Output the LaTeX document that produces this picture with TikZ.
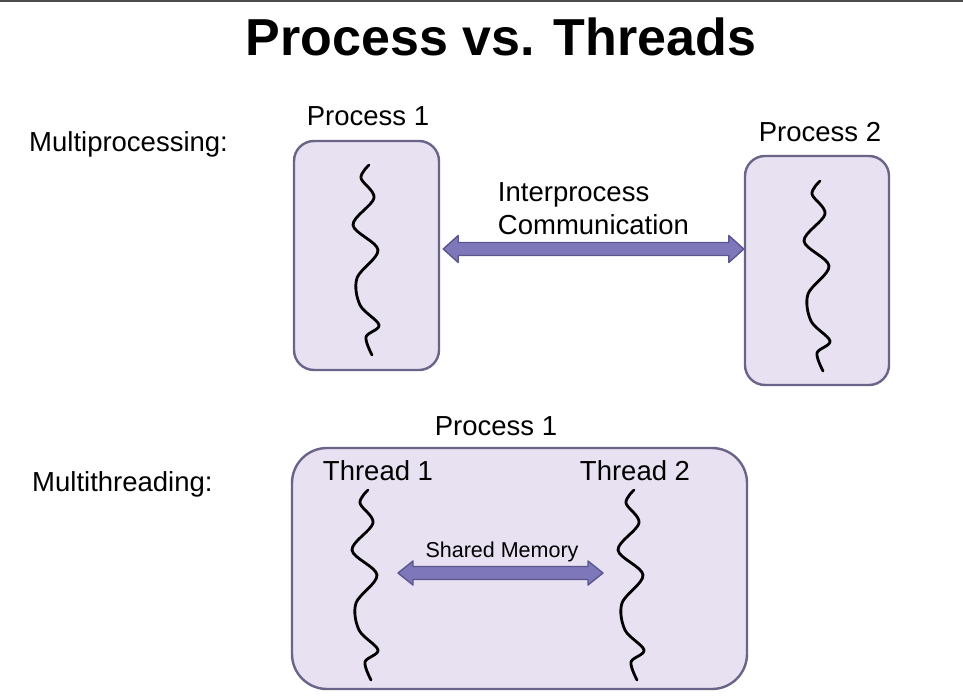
\documentclass[tikz,border=0pt]{standalone}
\usepackage{fontspec}
\setmainfont{Liberation Sans}
\usetikzlibrary{calc,positioning}
\definecolor{boxfill}{HTML}{E7E1F1}
\definecolor{boxedge}{HTML}{6B6489}
\definecolor{arrowfill}{HTML}{7E78BA}
\definecolor{arrowedge}{HTML}{5B5690}
\tikzset{
	procbox/.style={draw=boxedge, fill=boxfill, line width=2.4pt, rounded corners=20pt, inner sep=0pt},
	txt/.style={font=\fontsize{27.5}{33}\selectfont, inner sep=0pt},
	threadline/.style={line width=2.8pt, line cap=round, line join=round},
	thread/.pic={\draw[threadline] plot[smooth, tension=0.55] coordinates {(0,0) (-8,13) (5,33) (-16,60) (9,85) (-12,113) (-9,140) (10,160) (-3,172) (3,190)};},
	commarrow/.style={fill=arrowfill, draw=arrowedge, line width=1.4pt, line join=round}
}
% fat double arrow: (#1) left tip, (#2) right tip, #3 head half height, #4 shaft half height
\newcommand{\fatarrow}[4]{\draw[commarrow] (#1) -- ++(15,-#3) -- ++(0,#3-#4) -- ($(#2)+(-15,-#4)$) -- ++(0,#4-#3) -- (#2) -- ($(#2)+(-15,#3)$) -- ++(0,#4-#3) -- ($(#1)+(15,#4)$) -- ++(0,#3-#4) -- cycle;}

\begin{document}
\begin{tikzpicture}[x=1pt,y=-1pt]
		\useasboundingbox (0,0) rectangle (963,699);
		%%%%% START %%%%%
		
		\draw[line width=2pt, color=black!70] (0,1) -- (963,1);
		\node[font=\fontsize{52}{60}\selectfont\bfseries, inner sep=0pt, anchor=base] (title) at (501,55) {Process vs. Threads};
		
		% multiprocessing
		\node[txt, anchor=base west] (mp) at (29,151) {Multiprocessing:};
		\node[procbox, minimum width=145pt, minimum height=229pt] (p1) at (366.5,255.5) {};
		\node[procbox, minimum width=144pt, minimum height=229pt] (p2) at (817,270.5) {};
		\node[txt, anchor=base] (p1lbl) at (368,125) {Process 1};
		\node[txt, anchor=base] (p2lbl) at (820,141) {Process 2};
		\pic at (369,165) {thread};
		\pic at (820,181) {thread};
		
		\coordinate (ipcL) at ([xshift=3pt,yshift=6.5pt]p1.east);
		\coordinate (ipcR) at (ipcL -| p2.west);
		\fatarrow{ipcL}{ipcR}{13.5}{6.5}
		\node[txt, align=left] (ipc) at (593.5,209) {Interprocess\\Communication};
		
		% multithreading
		\node[txt, anchor=base west] (mt) at (32,491) {Multithreading:};
		\node[procbox, rounded corners=35pt, minimum width=455pt, minimum height=241pt] (p3) at (519.5,568.5) {};
		\node[txt, anchor=base] (p3lbl) at (496,435) {Process 1};
		\node[txt, anchor=base] (t1lbl) at (378,480) {Thread 1};
		\node[txt, anchor=base] (t2lbl) at (635,480) {Thread 2};
		\pic at (368,490) {thread};
		\pic at (634,490) {thread};
		
		\coordinate (smL) at (398,573);
		\coordinate (smR) at (603,573);
		\fatarrow{smL}{smR}{12}{6.5}
		\node[font=\fontsize{21.5}{26}\selectfont, inner sep=0pt, anchor=base] (sm) at (502,557) {Shared Memory};
		
		%%%%% END %%%%%
\end{tikzpicture}
\end{document}
